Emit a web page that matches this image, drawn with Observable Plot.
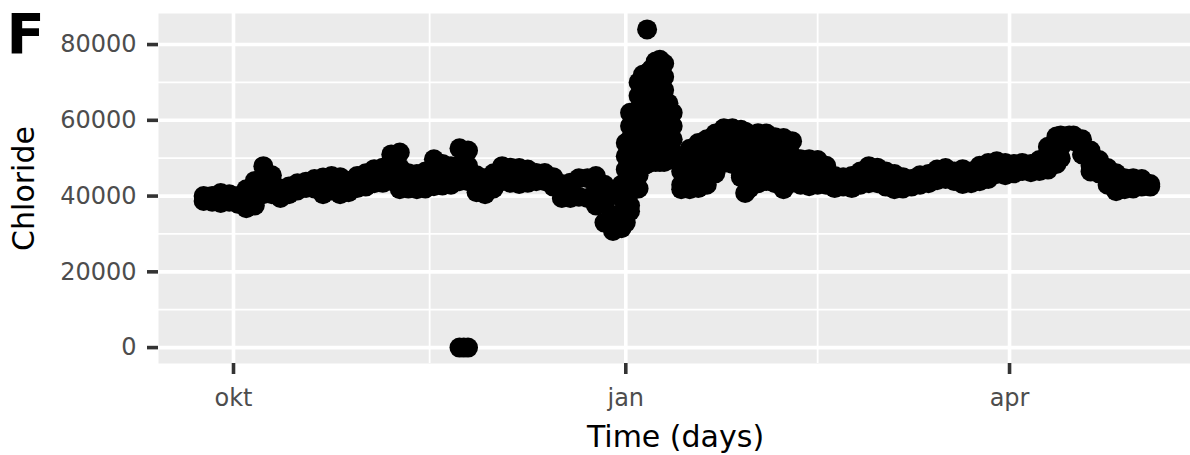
<!DOCTYPE html>
<html>
<head>
<meta charset="utf-8">
<script src="https://cdn.jsdelivr.net/npm/d3@7"></script>
<script src="https://cdn.jsdelivr.net/npm/@observablehq/plot@0.6"></script>
<style>
  body { margin: 0; background: #ffffff; }
  #chart svg { display: block; }
</style>
</head>
<body>
<div id="chart"></div>
<script>
// Sampling days and the chloride readings logged on each of them
const days = [
  "2018-09-24","2018-09-26","2018-09-28","2018-09-30","2018-10-02","2018-10-04","2018-10-06","2018-10-08",
  "2018-10-10","2018-10-12","2018-10-14","2018-10-16","2018-10-18","2018-10-20","2018-10-22","2018-10-24",
  "2018-10-26","2018-10-28","2018-10-30","2018-11-01","2018-11-03","2018-11-05","2018-11-07","2018-11-09",
  "2018-11-11","2018-11-13","2018-11-15","2018-11-17","2018-11-19","2018-11-21","2018-11-23","2018-11-24",
  "2018-11-25","2018-11-27","2018-11-29","2018-12-01","2018-12-03","2018-12-05","2018-12-07","2018-12-09",
  "2018-12-11","2018-12-13","2018-12-15","2018-12-17","2018-12-19","2018-12-21","2018-12-23","2018-12-25",
  "2018-12-27","2018-12-29","2018-12-31","2019-01-01","2019-01-02","2019-01-04","2019-01-05","2019-01-06",
  "2019-01-07","2019-01-08","2019-01-09","2019-01-10","2019-01-11","2019-01-12","2019-01-14","2019-01-16",
  "2019-01-18","2019-01-20","2019-01-22","2019-01-24","2019-01-26","2019-01-28","2019-01-29","2019-01-30",
  "2019-02-01","2019-02-03","2019-02-05","2019-02-07","2019-02-09","2019-02-11","2019-02-13","2019-02-15",
  "2019-02-17","2019-02-19","2019-02-21","2019-02-23","2019-02-25","2019-02-27","2019-03-01","2019-03-03",
  "2019-03-05","2019-03-07","2019-03-09","2019-03-11","2019-03-13","2019-03-15","2019-03-17","2019-03-19",
  "2019-03-21","2019-03-23","2019-03-25","2019-03-27","2019-03-29","2019-03-31","2019-04-02","2019-04-04",
  "2019-04-06","2019-04-08","2019-04-10","2019-04-12","2019-04-13","2019-04-15","2019-04-16","2019-04-18",
  "2019-04-20","2019-04-22","2019-04-24","2019-04-26","2019-04-28","2019-04-30","2019-05-02","2019-05-04"
];

const dailyReadings = [
  [40000, 38700], [40000, 38500], [40800, 38200], [40500, 38500], [40000, 38000], [41800, 39000, 36800],
  [44000, 40500, 37500], [47900, 44000, 40500],
  [45500, 43000, 40500], [42000, 39500], [42500, 40500], [43400, 41500], [43800, 42100], [44500, 42000],
  [44900, 42500, 40500], [45300, 41500],
  [45000, 42500, 40500], [44000, 41000], [45300, 42100], [46000, 42500], [47100, 43400], [47500, 43500],
  [51000, 47500, 44000], [51500, 47500, 44500, 41800],
  [46000, 42000], [45800, 41800], [46500, 42000], [49700, 46000, 42600], [48500, 45500, 42800], [47900, 43000],
  [52600, 48000, 43900, 0], [0],
  [52000, 48000, 43900, 0], [45500, 41000], [44700, 40500], [46000, 42000], [47900, 43900], [47500, 43500],
  [47400, 43200], [47000, 43500],
  [46100, 43900], [46100, 43900], [45000, 42500], [43200, 39500], [43500, 39500], [44700, 39800],
  [44700, 39500], [45300, 41500, 37500],
  [43000, 38000, 33000], [40800, 35000, 30800], [43000, 39500, 35500, 31500],
  [54000, 50500, 47000, 43500, 40000, 36500, 33000],
  [62000, 58500, 55000, 51500, 48000, 44500, 41000, 37500, 36000],
  [70000, 66500, 63000, 59500, 56000, 52500, 49000, 45500, 42000],
  [72000, 68500, 65000, 61500, 58000, 54500, 51000, 47900],
  [84000, 72500, 69000, 65500, 62000, 58500, 55000, 51500, 48500],
  [73500, 70000, 66500, 63000, 59500, 56000, 52500, 49000],
  [75500, 72000, 68500, 65000, 61500, 58000, 54500, 51000, 49000],
  [76000, 72500, 69000, 65500, 62000, 58500, 55000, 51500, 49000],
  [75000, 71500, 68000, 64500, 61000, 57500, 54000, 50500, 49000],
  [64500, 61000, 57500, 54000, 50500, 49500],
  [62000, 58500, 55000, 51500, 50000],
  [50500, 46500, 43000, 41800], [52500, 48500, 45000, 41800], [54000, 50000, 46000, 42100],
  [55000, 51000, 47000, 43000], [56500, 52500, 49000, 46000], [57900, 54000, 50500, 48700],
  [57900, 54000, 50500, 48500],
  [57500, 53500, 49500, 45500, 45000], [57000, 53000, 49000, 45000, 40800], [52000, 48000, 44500, 42000],
  [56600, 52500, 48500, 45000, 43400],
  [56500, 52500, 48500, 44500, 44000], [55500, 51500, 47500, 43400], [55300, 51500, 47500, 44000, 41800],
  [54500, 50500, 47000, 43500], [49700, 46000, 43000], [49700, 46000, 42600], [49500, 46000, 43000],
  [48000, 45000, 43000],
  [45300, 42100], [45000, 42500], [45300, 42100], [46500, 43000], [47900, 43400], [47500, 43400],
  [46500, 42500], [45800, 41800],
  [45000, 42000], [44500, 42500], [45500, 43000], [45800, 43400], [47000, 44200], [47400, 44500],
  [46500, 44000], [47100, 43200],
  [46500, 43400], [48000, 43900], [48700, 44500], [49200, 45800], [48700, 45500], [48500, 46000],
  [48700, 46600], [48500, 46300],
  [49500, 46600], [53000, 49500, 47000], [55700, 52000, 48500], [56000, 53000, 50000], [56000],
  [56000, 54500], [55000, 51000], [52000, 48000, 46500],
  [49500, 46000], [47400, 43000], [46000, 41300], [44700, 41800], [44700, 42000], [44500, 42500],
  [43200, 42500]
];

// Axis breaks and labels
const yTicks = [0, 20000, 40000, 60000, 80000];
const yMinorBreaks = [10000, 30000, 50000, 70000];
const xTickDays = ["2018-10-01", "2019-01-01", "2019-04-01"];
const xTickLabels = ["okt", "jan", "apr"];
const xMinorDays = ["2018-11-16", "2019-02-15"];
const xLimits = ["2018-09-13T09:50Z", "2019-05-13T10:34Z"];

const parse = s => new Date(s);
const readings = days.flatMap((d, i) =>
  dailyReadings[i].map(v => ({time: parse(d), chloride: v}))
);

const values = readings.map(r => r.chloride);
const [vMin, vMax] = d3.extent(values);
const pad = (vMax - vMin) * 0.05;

const xTickDates = xTickDays.map(parse);
const monthLabel = d => xTickLabels[xTickDates.findIndex(t => +t === +d)];

const chart = Plot.plot({
  width: 1190,
  height: 455,
  marginLeft: 158,
  marginRight: 0,
  marginTop: 13,
  marginBottom: 92,
  style: {fontFamily: "DejaVu Sans", background: "#ffffff", overflow: "visible"},
  x: {type: "utc", domain: xLimits.map(parse), axis: null, label: null},
  y: {domain: [vMin - pad, vMax + pad], axis: null, label: null},
  marks: [
    Plot.frame({fill: "#EBEBEB", stroke: null}),
    Plot.gridY(yMinorBreaks, {stroke: "#ffffff", strokeOpacity: 1, strokeWidth: 1.8}),
    Plot.gridX(xMinorDays.map(parse), {stroke: "#ffffff", strokeOpacity: 1, strokeWidth: 1.8}),
    Plot.gridY(yTicks, {stroke: "#ffffff", strokeOpacity: 1, strokeWidth: 3.6}),
    Plot.gridX(xTickDates, {stroke: "#ffffff", strokeOpacity: 1, strokeWidth: 3.6}),
    Plot.dot(readings, {x: "time", y: "chloride", r: 10, fill: "#000000", stroke: null}),
    Plot.axisY(yTicks, {
      tickSize: 11, tickPadding: 11, stroke: "#333333", strokeWidth: 3.6,
      fill: "#4D4D4D", fontSize: 24, tickFormat: d => String(d), label: null
    }),
    Plot.axisX(xTickDates, {
      tickSize: 11, tickPadding: 14, stroke: "#333333", strokeWidth: 3.6,
      fill: "#4D4D4D", fontSize: 24, tickFormat: monthLabel, label: null
    }),
    Plot.text(["Chloride"], {
      frameAnchor: "left", text: d => d, rotate: -90, dx: -134,
      fontSize: 30, fill: "#000000", textAnchor: "middle", lineAnchor: "middle"
    }),
    Plot.text(["Time (days)"], {
      frameAnchor: "bottom", text: d => d, dx: 1, dy: 74,
      fontSize: 30, fill: "#000000", textAnchor: "middle", lineAnchor: "middle"
    }),
    Plot.text(["F"], {
      frameAnchor: "top-left", text: d => d, dx: -152, dy: 0,
      fontSize: 56, fontWeight: "bold", fill: "#000000", textAnchor: "start", lineAnchor: "top"
    })
  ]
});

document.getElementById("chart").append(chart);
</script>
</body>
</html>
